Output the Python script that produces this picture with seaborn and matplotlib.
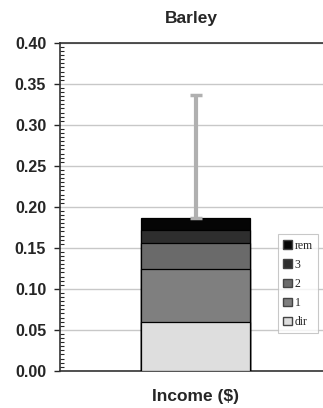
import numpy as np
import pandas as pd
import matplotlib.pyplot as plt
import seaborn as sns
from matplotlib.patches import Patch
from matplotlib.ticker import MultipleLocator

# values (income share per component)
components = ['dir', '1', '2', '3', 'rem']
values = [0.059, 0.065, 0.032, 0.016, 0.015]
colors = ['#dedede', '#7f7f7f', '#6a6a6a', '#2e2e2e', '#050505']
category = 'Income ($)'
upper_err = 0.150

sns.set_style('white')
plt.rcParams['font.family'] = ['Liberation Sans', 'DejaVu Sans']

fig = plt.figure(figsize=(3.23, 4.08), dpi=100)
ax = fig.add_axes([0.186, 0.091, 0.814, 0.804])

cum = np.cumsum(values)
df = pd.DataFrame({'cat': [category] * len(components), 'comp': components, 'cum': cum})

# draw from the tallest stack down so each segment shows
for i in range(len(components) - 1, -1, -1):
    sns.barplot(data=df.iloc[[i]], x='cat', y='cum', color=colors[i],
                edgecolor='black', linewidth=0.9, width=0.8, ax=ax,
                saturation=1, errorbar=None, zorder=3)

ax.errorbar(x=[0], y=[cum[-1]], yerr=[[0], [upper_err]], fmt='none',
            ecolor='#b0b0b0', elinewidth=3, capsize=4.5, capthick=2.5, zorder=4)

ax.set_xlim(-1.0, 0.94)
ax.set_ylim(0, 0.40)
ax.yaxis.set_major_locator(MultipleLocator(0.05))
ax.yaxis.set_minor_locator(MultipleLocator(0.005))
ax.set_yticklabels([f'{v:.2f}' for v in ax.get_yticks()], fontweight='bold', fontsize=11.5)
ax.tick_params(axis='y', which='major', direction='out', length=4, width=1, left=True, pad=6)
ax.tick_params(axis='y', which='minor', direction='in', length=3, width=0.8, left=True)
ax.tick_params(axis='x', length=0, pad=13)
for lab in ax.get_xticklabels():
    lab.set_fontweight('bold')
    lab.set_fontsize(12.5)
ax.set_xlabel('')
ax.set_ylabel('')
ax.grid(axis='y', color='#c8c8c8', linewidth=1, zorder=0)
ax.set_axisbelow(True)

ax.spines['right'].set_visible(False)
for s in ['left', 'bottom', 'top']:
    ax.spines[s].set_color('#333333')
    ax.spines[s].set_linewidth(1.2)

ax.set_title('Barley', fontweight='bold', fontsize=12.5, pad=14)

handles = [Patch(facecolor=colors[i], edgecolor='#444444', label=components[i])
           for i in range(len(components) - 1, -1, -1)]
leg = ax.legend(handles=handles, loc='center right', bbox_to_anchor=(0.995, 0.265),
                prop={'family': 'Liberation Serif', 'size': 8.5}, frameon=True,
                fancybox=False, edgecolor='#bbbbbb', handlelength=0.75,
                handleheight=0.75, handletextpad=0.2, labelspacing=0.6,
                borderpad=0.45, borderaxespad=0.3)
leg.get_frame().set_linewidth(0.8)

fig.savefig('out.png', dpi=100)
